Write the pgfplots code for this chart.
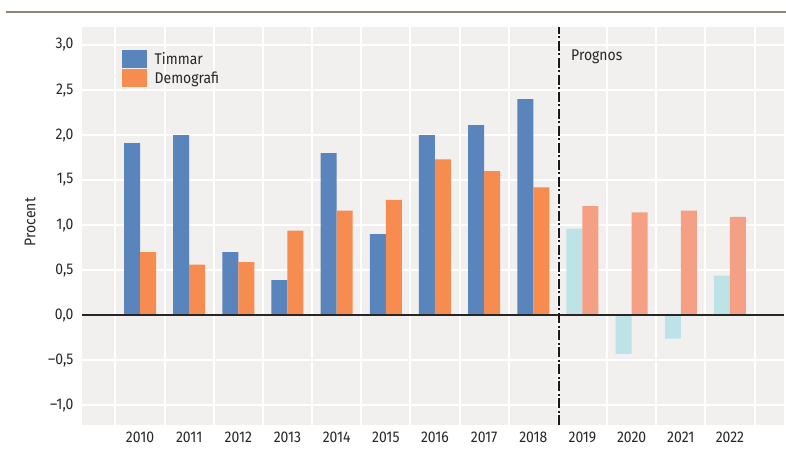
\documentclass[border=0pt]{standalone}
\usepackage{fontspec}
\setmainfont{Fira Sans}[FakeStretch=0.9]
\usepackage{pgfplots}
\pgfplotsset{compat=1.18}
\definecolor{bgc}{HTML}{F1F0EE}
\definecolor{tblue}{HTML}{5A84BC}
\definecolor{dorange}{HTML}{F68C50}
\definecolor{tcyan}{HTML}{BDE3E6}
\definecolor{dsalmon}{HTML}{F5A084}
\definecolor{rulec}{HTML}{8E8576}
\definecolor{txt}{HTML}{262626}
\newcommand\lbl{\fontsize{15.5}{18}\selectfont}
\begin{document}
\begin{tikzpicture}[x=1pt,y=1pt]
\useasboundingbox (0,0) rectangle (786,455);
\draw[rulec, line width=1.6pt] (6,443) -- (786,443);
\begin{axis}[
  at={(82pt,30pt)}, anchor=south west,
  scale only axis, width=702pt, height=398pt,
  xmin=-1.18, xmax=13.1, ymin=-1.22, ymax=3.2,
  axis background/.style={fill=bgc},
  axis line style={draw=none},
  major tick length=0pt, minor tick length=0pt,
  ytick={-1,-0.5,0,0.5,1,1.5,2,2.5,3},
  yticklabels={–1{,}0,–0{,}5,0{,}0,0{,}5,1{,}0,1{,}5,2{,}0,2{,}5,3{,}0},
  xtick={0,...,12},
  xticklabels={2010,2011,2012,2013,2014,2015,2016,2017,2018,2019,2020,2021,2022},
  minor xtick={-0.5,0.5,...,12.5},
  ymajorgrids, xminorgrids,
  grid style={white, line width=2pt},
  minor grid style={white, line width=2pt},
  ticklabel style={font=\lbl, text=txt},
  yticklabel style={xshift=-5pt},
  xticklabel style={yshift=-3pt},
  ylabel={Procent},
  every axis y label/.style={at={(axis description cs:-0.074,0.51)}, rotate=90,
    anchor=center, font=\lbl, text=txt},
  legend style={at={(rel axis cs:0.052,0.948)}, anchor=north west, draw=none, fill=none,
    font=\lbl, text=txt, row sep=1.5pt,
    /tikz/every odd column/.append style={column sep=6pt}},
  legend cell align=left,
  legend image code/.code={\fill[#1] (0pt,-9pt) rectangle (25pt,9pt);},
]
\addplot[ybar, bar width=16pt, bar shift=-8pt, fill=tblue, draw=none] coordinates {
  (0,1.91) (1,2.00) (2,0.70) (3,0.39) (4,1.80) (5,0.90) (6,2.00) (7,2.11) (8,2.40)};
\addlegendentry{Timmar}
\addplot[ybar, bar width=16pt, bar shift=8pt, fill=dorange, draw=none] coordinates {
  (0,0.70) (1,0.56) (2,0.59) (3,0.94) (4,1.16) (5,1.28) (6,1.73) (7,1.60) (8,1.42)};
\addlegendentry{Demografi}
\addplot[ybar, bar width=16pt, bar shift=-8pt, fill=tcyan, draw=none, forget plot] coordinates {
  (9,0.96) (10,-0.43) (11,-0.26) (12,0.44)};
\addplot[ybar, bar width=16pt, bar shift=8pt, fill=dsalmon, draw=none, forget plot] coordinates {
  (9,1.21) (10,1.14) (11,1.16) (12,1.09)};
\draw[black!85, line width=1.3pt] (axis cs:-1.18,0) -- (axis cs:13.1,0);
\draw[black!90, line width=1.8pt, dash pattern=on 10pt off 2.5pt on 2pt off 2.5pt]
  (axis cs:8.53,-1.22) -- (axis cs:8.53,3.2);
\node[anchor=west, font=\lbl, text=txt] at (axis cs:8.7,2.87) {Prognos};
\end{axis}
\end{tikzpicture}
\end{document}
